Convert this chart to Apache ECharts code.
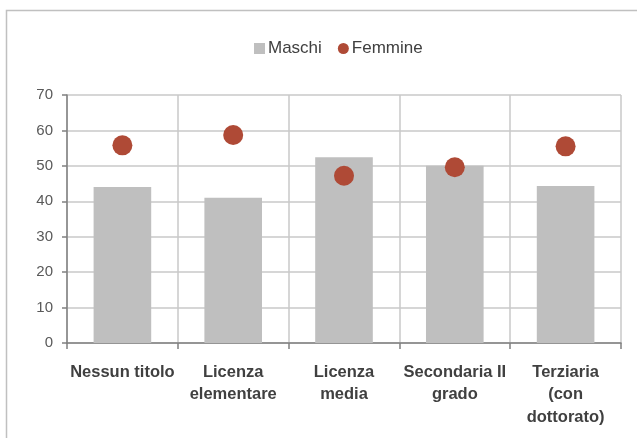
<!DOCTYPE html>
<html><head><meta charset="utf-8">
<script src="https://cdn.jsdelivr.net/npm/echarts@6/dist/echarts.min.js"></script>
<style>html,body{margin:0;padding:0;background:#fff}#c{width:637px;height:438px}</style>
</head><body><div id="c"></div>
<script>
var categories = ['Nessun titolo', 'Licenza\nelementare', 'Licenza\nmedia', 'Secondaria II\ngrado', 'Terziaria\n(con\ndottorato)'];
var maschi = [44.0, 41.0, 52.4, 50.0, 44.3];
var femmine = [55.8, 58.7, 47.2, 49.6, 55.5];
var yTicks = {min: 0, max: 70, interval: 10};
var FONT = '"Liberation Sans", Arial, sans-serif';

var chart = echarts.init(document.getElementById('c'));
chart.setOption({
  animation: false,
  graphic: [{type: 'rect', shape: {x: 6.5, y: 10.5, width: 700, height: 500}, style: {fill: 'none', stroke: '#c0c0c0', lineWidth: 1.5}, z: -1}],
  legend: {
    top: 35, left: 249, itemGap: 16, itemWidth: 11, itemHeight: 11,
    textStyle: {fontFamily: FONT, fontSize: 17, color: '#404040', padding: [0,0,0,-2]},
    data: [{name: 'Maschi', icon: 'rect'}, {name: 'Femmine', icon: 'circle'}]
  },
  grid: {left: 67, right: 16, top: 95, bottom: 95, containLabel: false},
  xAxis: {
    type: 'category', data: categories, boundaryGap: true,
    axisLine: {lineStyle: {color: '#808080', width: 1.5}},
    axisTick: {show: true, length: 6, lineStyle: {color: '#808080', width: 1.5}},
    splitLine: {show: true, lineStyle: {color: '#c8c8c8', width: 1.5}},
    axisLabel: {interval: 0, fontFamily: FONT, fontSize: 16.5, fontWeight: 'bold', color: '#404040', lineHeight: 22.5, margin: 18}
  },
  yAxis: {
    type: 'value', min: yTicks.min, max: yTicks.max, interval: yTicks.interval,
    axisLine: {show: true, lineStyle: {color: '#808080', width: 1.5}},
    axisTick: {show: true, length: 5, lineStyle: {color: '#808080', width: 1.5}},
    splitLine: {show: true, lineStyle: {color: '#c8c8c8', width: 1.5}},
    axisLabel: {fontFamily: FONT, fontSize: 15, color: '#595959', margin: 14}
  },
  series: [
    {name: 'Maschi', type: 'bar', data: maschi, barWidth: '52%', itemStyle: {color: '#bfbfbf'}},
    {name: 'Femmine', type: 'scatter', data: femmine, symbol: 'circle', symbolSize: 20, itemStyle: {color: '#af4a36', opacity: 1}, z: 3}
  ]
});
</script></body></html>
